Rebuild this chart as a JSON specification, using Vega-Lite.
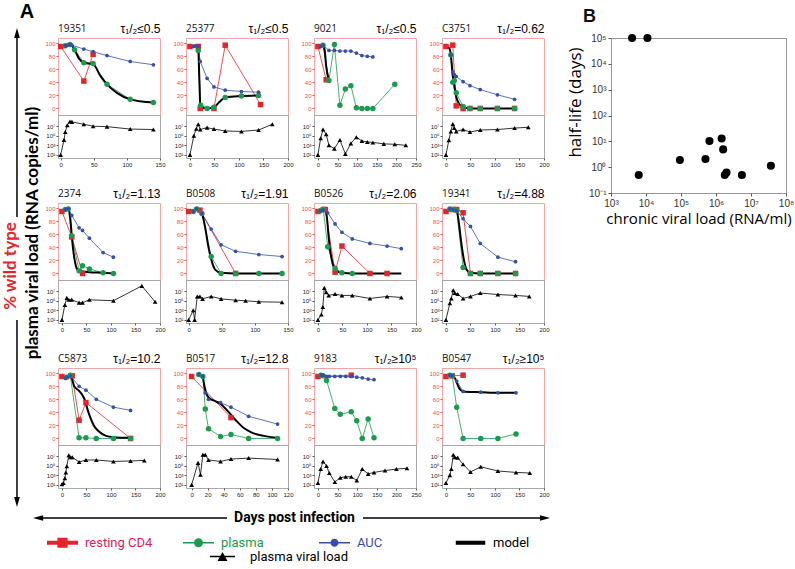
{
"$schema":"https://vega.github.io/schema/vega-lite/v6.json",
"padding":{"left":0,"top":2,"right":0,"bottom":0},
"datasets":{
"pct":[
{"id":"19351","series":"resting CD4","day":0,"pct":95},{"id":"19351","series":"resting CD4","day":35,"pct":42},{"id":"19351","series":"resting CD4","day":49,"pct":83},
{"id":"19351","series":"plasma","day":7,"pct":96},{"id":"19351","series":"plasma","day":14,"pct":98},{"id":"19351","series":"plasma","day":21,"pct":90},{"id":"19351","series":"plasma","day":35,"pct":70},{"id":"19351","series":"plasma","day":49,"pct":69},{"id":"19351","series":"plasma","day":70,"pct":37},{"id":"19351","series":"plasma","day":105,"pct":14},{"id":"19351","series":"plasma","day":140,"pct":9},
{"id":"19351","series":"AUC","day":7,"pct":96},{"id":"19351","series":"AUC","day":10,"pct":97},{"id":"19351","series":"AUC","day":14,"pct":98},{"id":"19351","series":"AUC","day":17,"pct":97},{"id":"19351","series":"AUC","day":35,"pct":91},{"id":"19351","series":"AUC","day":49,"pct":87},{"id":"19351","series":"AUC","day":70,"pct":81},{"id":"19351","series":"AUC","day":105,"pct":72},{"id":"19351","series":"AUC","day":140,"pct":67},
{"id":"19351","series":"model","day":0,"pct":95},{"id":"19351","series":"model","day":10,"pct":96},{"id":"19351","series":"model","day":17,"pct":96},{"id":"19351","series":"model","day":21,"pct":90},{"id":"19351","series":"model","day":28,"pct":76},{"id":"19351","series":"model","day":35,"pct":70},{"id":"19351","series":"model","day":49,"pct":68},{"id":"19351","series":"model","day":60,"pct":50},{"id":"19351","series":"model","day":70,"pct":37},{"id":"19351","series":"model","day":85,"pct":24},{"id":"19351","series":"model","day":105,"pct":14},{"id":"19351","series":"model","day":140,"pct":9},
{"id":"25377","series":"resting CD4","day":0,"pct":95},{"id":"25377","series":"resting CD4","day":17,"pct":95},{"id":"25377","series":"resting CD4","day":21,"pct":0},{"id":"25377","series":"resting CD4","day":49,"pct":0},{"id":"25377","series":"resting CD4","day":72,"pct":97},{"id":"25377","series":"resting CD4","day":144,"pct":6},
{"id":"25377","series":"plasma","day":17,"pct":89},{"id":"25377","series":"plasma","day":22,"pct":5},{"id":"25377","series":"plasma","day":35,"pct":0},{"id":"25377","series":"plasma","day":49,"pct":2},{"id":"25377","series":"plasma","day":72,"pct":17},{"id":"25377","series":"plasma","day":105,"pct":19},{"id":"25377","series":"plasma","day":140,"pct":20},
{"id":"25377","series":"AUC","day":7,"pct":95},{"id":"25377","series":"AUC","day":10,"pct":96},{"id":"25377","series":"AUC","day":17,"pct":95},{"id":"25377","series":"AUC","day":21,"pct":72},{"id":"25377","series":"AUC","day":35,"pct":46},{"id":"25377","series":"AUC","day":49,"pct":33},{"id":"25377","series":"AUC","day":72,"pct":28},{"id":"25377","series":"AUC","day":105,"pct":26},{"id":"25377","series":"AUC","day":140,"pct":25},
{"id":"25377","series":"model","day":0,"pct":95},{"id":"25377","series":"model","day":14,"pct":95},{"id":"25377","series":"model","day":17,"pct":92},{"id":"25377","series":"model","day":19,"pct":50},{"id":"25377","series":"model","day":21,"pct":8},{"id":"25377","series":"model","day":25,"pct":2},{"id":"25377","series":"model","day":35,"pct":0},{"id":"25377","series":"model","day":49,"pct":2},{"id":"25377","series":"model","day":60,"pct":10},{"id":"25377","series":"model","day":72,"pct":17},{"id":"25377","series":"model","day":105,"pct":19},{"id":"25377","series":"model","day":140,"pct":20},
{"id":"9021","series":"resting CD4","day":0,"pct":95},{"id":"9021","series":"resting CD4","day":21,"pct":44},
{"id":"9021","series":"plasma","day":13,"pct":97},{"id":"9021","series":"plasma","day":28,"pct":43},{"id":"9021","series":"plasma","day":42,"pct":98},{"id":"9021","series":"plasma","day":56,"pct":5},{"id":"9021","series":"plasma","day":70,"pct":30},{"id":"9021","series":"plasma","day":84,"pct":35},{"id":"9021","series":"plasma","day":98,"pct":1},{"id":"9021","series":"plasma","day":112,"pct":0},{"id":"9021","series":"plasma","day":126,"pct":0},{"id":"9021","series":"plasma","day":140,"pct":0},{"id":"9021","series":"plasma","day":196,"pct":37},
{"id":"9021","series":"AUC","day":7,"pct":95},{"id":"9021","series":"AUC","day":13,"pct":97},{"id":"9021","series":"AUC","day":28,"pct":89},{"id":"9021","series":"AUC","day":42,"pct":89},{"id":"9021","series":"AUC","day":56,"pct":88},{"id":"9021","series":"AUC","day":70,"pct":88},{"id":"9021","series":"AUC","day":84,"pct":88},{"id":"9021","series":"AUC","day":98,"pct":85},{"id":"9021","series":"AUC","day":112,"pct":81},{"id":"9021","series":"AUC","day":126,"pct":80},{"id":"9021","series":"AUC","day":140,"pct":79},
{"id":"9021","series":"model","day":13,"pct":97},{"id":"9021","series":"model","day":17,"pct":90},{"id":"9021","series":"model","day":21,"pct":65},{"id":"9021","series":"model","day":28,"pct":43},
{"id":"C3751","series":"resting CD4","day":0,"pct":95},{"id":"C3751","series":"resting CD4","day":14,"pct":97},{"id":"C3751","series":"resting CD4","day":21,"pct":4},{"id":"C3751","series":"resting CD4","day":35,"pct":0},{"id":"C3751","series":"resting CD4","day":49,"pct":0},{"id":"C3751","series":"resting CD4","day":70,"pct":0},{"id":"C3751","series":"resting CD4","day":105,"pct":0},{"id":"C3751","series":"resting CD4","day":140,"pct":0},
{"id":"C3751","series":"plasma","day":10,"pct":82},{"id":"C3751","series":"plasma","day":14,"pct":40},{"id":"C3751","series":"plasma","day":17,"pct":43},{"id":"C3751","series":"plasma","day":21,"pct":24},{"id":"C3751","series":"plasma","day":35,"pct":3},{"id":"C3751","series":"plasma","day":49,"pct":0},{"id":"C3751","series":"plasma","day":70,"pct":0},{"id":"C3751","series":"plasma","day":105,"pct":0},{"id":"C3751","series":"plasma","day":140,"pct":0},
{"id":"C3751","series":"AUC","day":10,"pct":82},{"id":"C3751","series":"AUC","day":14,"pct":56},{"id":"C3751","series":"AUC","day":17,"pct":52},{"id":"C3751","series":"AUC","day":21,"pct":49},{"id":"C3751","series":"AUC","day":35,"pct":41},{"id":"C3751","series":"AUC","day":49,"pct":35},{"id":"C3751","series":"AUC","day":70,"pct":29},{"id":"C3751","series":"AUC","day":105,"pct":21},{"id":"C3751","series":"AUC","day":140,"pct":14},
{"id":"C3751","series":"model","day":0,"pct":95},{"id":"C3751","series":"model","day":7,"pct":92},{"id":"C3751","series":"model","day":10,"pct":82},{"id":"C3751","series":"model","day":14,"pct":50},{"id":"C3751","series":"model","day":17,"pct":35},{"id":"C3751","series":"model","day":21,"pct":18},{"id":"C3751","series":"model","day":28,"pct":6},{"id":"C3751","series":"model","day":35,"pct":2},{"id":"C3751","series":"model","day":49,"pct":0},{"id":"C3751","series":"model","day":70,"pct":0},{"id":"C3751","series":"model","day":105,"pct":0},{"id":"C3751","series":"model","day":140,"pct":0},
{"id":"2374","series":"resting CD4","day":0,"pct":95},{"id":"2374","series":"resting CD4","day":20,"pct":56},{"id":"2374","series":"resting CD4","day":42,"pct":0},
{"id":"2374","series":"plasma","day":7,"pct":98},{"id":"2374","series":"plasma","day":13,"pct":99},{"id":"2374","series":"plasma","day":20,"pct":58},{"id":"2374","series":"plasma","day":35,"pct":4},{"id":"2374","series":"plasma","day":42,"pct":12},{"id":"2374","series":"plasma","day":56,"pct":7},{"id":"2374","series":"plasma","day":84,"pct":1},{"id":"2374","series":"plasma","day":105,"pct":0},
{"id":"2374","series":"AUC","day":7,"pct":98},{"id":"2374","series":"AUC","day":13,"pct":99},{"id":"2374","series":"AUC","day":20,"pct":89},{"id":"2374","series":"AUC","day":35,"pct":70},{"id":"2374","series":"AUC","day":42,"pct":66},{"id":"2374","series":"AUC","day":56,"pct":54},{"id":"2374","series":"AUC","day":84,"pct":32},{"id":"2374","series":"AUC","day":105,"pct":25},
{"id":"2374","series":"model","day":7,"pct":98},{"id":"2374","series":"model","day":14,"pct":97},{"id":"2374","series":"model","day":17,"pct":85},{"id":"2374","series":"model","day":20,"pct":58},{"id":"2374","series":"model","day":25,"pct":25},{"id":"2374","series":"model","day":30,"pct":8},{"id":"2374","series":"model","day":35,"pct":4},{"id":"2374","series":"model","day":42,"pct":3},{"id":"2374","series":"model","day":56,"pct":2},{"id":"2374","series":"model","day":84,"pct":1},{"id":"2374","series":"model","day":105,"pct":0},
{"id":"B0508","series":"resting CD4","day":0,"pct":95},{"id":"B0508","series":"resting CD4","day":17,"pct":97},{"id":"B0508","series":"resting CD4","day":71,"pct":0},
{"id":"B0508","series":"plasma","day":7,"pct":95},{"id":"B0508","series":"plasma","day":12,"pct":99},{"id":"B0508","series":"plasma","day":20,"pct":92},{"id":"B0508","series":"plasma","day":34,"pct":26},{"id":"B0508","series":"plasma","day":49,"pct":0},{"id":"B0508","series":"plasma","day":71,"pct":0},{"id":"B0508","series":"plasma","day":106,"pct":0},{"id":"B0508","series":"plasma","day":141,"pct":0},
{"id":"B0508","series":"AUC","day":7,"pct":95},{"id":"B0508","series":"AUC","day":12,"pct":99},{"id":"B0508","series":"AUC","day":20,"pct":92},{"id":"B0508","series":"AUC","day":34,"pct":68},{"id":"B0508","series":"AUC","day":49,"pct":44},{"id":"B0508","series":"AUC","day":71,"pct":34},{"id":"B0508","series":"AUC","day":106,"pct":29},{"id":"B0508","series":"AUC","day":141,"pct":26},
{"id":"B0508","series":"model","day":0,"pct":95},{"id":"B0508","series":"model","day":12,"pct":98},{"id":"B0508","series":"model","day":20,"pct":92},{"id":"B0508","series":"model","day":25,"pct":70},{"id":"B0508","series":"model","day":30,"pct":40},{"id":"B0508","series":"model","day":34,"pct":22},{"id":"B0508","series":"model","day":40,"pct":6},{"id":"B0508","series":"model","day":49,"pct":1},{"id":"B0508","series":"model","day":71,"pct":0},{"id":"B0508","series":"model","day":106,"pct":0},{"id":"B0508","series":"model","day":141,"pct":0},
{"id":"B0526","series":"resting CD4","day":0,"pct":95},{"id":"B0526","series":"resting CD4","day":11,"pct":98},{"id":"B0526","series":"resting CD4","day":15,"pct":98},{"id":"B0526","series":"resting CD4","day":35,"pct":2},{"id":"B0526","series":"resting CD4","day":49,"pct":42},{"id":"B0526","series":"resting CD4","day":106,"pct":0},{"id":"B0526","series":"resting CD4","day":141,"pct":0},
{"id":"B0526","series":"plasma","day":5,"pct":96},{"id":"B0526","series":"plasma","day":11,"pct":98},{"id":"B0526","series":"plasma","day":20,"pct":41},{"id":"B0526","series":"plasma","day":35,"pct":8},{"id":"B0526","series":"plasma","day":49,"pct":1},{"id":"B0526","series":"plasma","day":70,"pct":0},
{"id":"B0526","series":"AUC","day":5,"pct":96},{"id":"B0526","series":"AUC","day":11,"pct":97},{"id":"B0526","series":"AUC","day":20,"pct":93},{"id":"B0526","series":"AUC","day":35,"pct":76},{"id":"B0526","series":"AUC","day":49,"pct":63},{"id":"B0526","series":"AUC","day":70,"pct":53},{"id":"B0526","series":"AUC","day":106,"pct":46},{"id":"B0526","series":"AUC","day":141,"pct":42},{"id":"B0526","series":"AUC","day":170,"pct":38},
{"id":"B0526","series":"model","day":5,"pct":97},{"id":"B0526","series":"model","day":15,"pct":96},{"id":"B0526","series":"model","day":18,"pct":88},{"id":"B0526","series":"model","day":22,"pct":55},{"id":"B0526","series":"model","day":26,"pct":30},{"id":"B0526","series":"model","day":30,"pct":15},{"id":"B0526","series":"model","day":35,"pct":7},{"id":"B0526","series":"model","day":42,"pct":2},{"id":"B0526","series":"model","day":49,"pct":1},{"id":"B0526","series":"model","day":70,"pct":0},{"id":"B0526","series":"model","day":106,"pct":0},{"id":"B0526","series":"model","day":141,"pct":0},{"id":"B0526","series":"model","day":170,"pct":0},
{"id":"19341","series":"resting CD4","day":0,"pct":95},{"id":"19341","series":"resting CD4","day":15,"pct":98},{"id":"19341","series":"resting CD4","day":22,"pct":98},{"id":"19341","series":"resting CD4","day":35,"pct":93},{"id":"19341","series":"resting CD4","day":50,"pct":0},{"id":"19341","series":"resting CD4","day":70,"pct":0},{"id":"19341","series":"resting CD4","day":106,"pct":0},{"id":"19341","series":"resting CD4","day":142,"pct":0},
{"id":"19341","series":"plasma","day":8,"pct":99},{"id":"19341","series":"plasma","day":15,"pct":98},{"id":"19341","series":"plasma","day":22,"pct":96},{"id":"19341","series":"plasma","day":35,"pct":9},{"id":"19341","series":"plasma","day":50,"pct":0},{"id":"19341","series":"plasma","day":70,"pct":0},{"id":"19341","series":"plasma","day":106,"pct":0},{"id":"19341","series":"plasma","day":142,"pct":0},
{"id":"19341","series":"AUC","day":8,"pct":99},{"id":"19341","series":"AUC","day":15,"pct":98},{"id":"19341","series":"AUC","day":22,"pct":96},{"id":"19341","series":"AUC","day":35,"pct":84},{"id":"19341","series":"AUC","day":50,"pct":72},{"id":"19341","series":"AUC","day":70,"pct":46},{"id":"19341","series":"AUC","day":106,"pct":25},{"id":"19341","series":"AUC","day":142,"pct":18},
{"id":"19341","series":"model","day":0,"pct":96},{"id":"19341","series":"model","day":15,"pct":97},{"id":"19341","series":"model","day":22,"pct":96},{"id":"19341","series":"model","day":26,"pct":80},{"id":"19341","series":"model","day":30,"pct":55},{"id":"19341","series":"model","day":35,"pct":28},{"id":"19341","series":"model","day":40,"pct":10},{"id":"19341","series":"model","day":45,"pct":3},{"id":"19341","series":"model","day":50,"pct":1},{"id":"19341","series":"model","day":70,"pct":0},{"id":"19341","series":"model","day":106,"pct":0},{"id":"19341","series":"model","day":142,"pct":0},
{"id":"C5873","series":"resting CD4","day":0,"pct":95},{"id":"C5873","series":"resting CD4","day":21,"pct":96},{"id":"C5873","series":"resting CD4","day":35,"pct":28},{"id":"C5873","series":"resting CD4","day":49,"pct":55},{"id":"C5873","series":"resting CD4","day":140,"pct":0},
{"id":"C5873","series":"plasma","day":10,"pct":94},{"id":"C5873","series":"plasma","day":17,"pct":97},{"id":"C5873","series":"plasma","day":35,"pct":1},{"id":"C5873","series":"plasma","day":49,"pct":1},{"id":"C5873","series":"plasma","day":70,"pct":0},{"id":"C5873","series":"plasma","day":105,"pct":0},{"id":"C5873","series":"plasma","day":140,"pct":0},
{"id":"C5873","series":"AUC","day":7,"pct":92},{"id":"C5873","series":"AUC","day":10,"pct":94},{"id":"C5873","series":"AUC","day":17,"pct":96},{"id":"C5873","series":"AUC","day":35,"pct":80},{"id":"C5873","series":"AUC","day":49,"pct":74},{"id":"C5873","series":"AUC","day":70,"pct":60},{"id":"C5873","series":"AUC","day":105,"pct":48},{"id":"C5873","series":"AUC","day":140,"pct":43},
{"id":"C5873","series":"model","day":17,"pct":96},{"id":"C5873","series":"model","day":21,"pct":90},{"id":"C5873","series":"model","day":25,"pct":80},{"id":"C5873","series":"model","day":35,"pct":73},{"id":"C5873","series":"model","day":45,"pct":62},{"id":"C5873","series":"model","day":55,"pct":38},{"id":"C5873","series":"model","day":65,"pct":20},{"id":"C5873","series":"model","day":75,"pct":11},{"id":"C5873","series":"model","day":90,"pct":4},{"id":"C5873","series":"model","day":105,"pct":2},{"id":"C5873","series":"model","day":140,"pct":1},
{"id":"B0517","series":"resting CD4","day":0,"pct":95},{"id":"B0517","series":"resting CD4","day":49,"pct":32},
{"id":"B0517","series":"plasma","day":9,"pct":98},{"id":"B0517","series":"plasma","day":14,"pct":95},{"id":"B0517","series":"plasma","day":17,"pct":45},{"id":"B0517","series":"plasma","day":21,"pct":15},{"id":"B0517","series":"plasma","day":36,"pct":3},{"id":"B0517","series":"plasma","day":49,"pct":6},{"id":"B0517","series":"plasma","day":71,"pct":0},{"id":"B0517","series":"plasma","day":107,"pct":0},
{"id":"B0517","series":"AUC","day":9,"pct":98},{"id":"B0517","series":"AUC","day":14,"pct":95},{"id":"B0517","series":"AUC","day":17,"pct":70},{"id":"B0517","series":"AUC","day":21,"pct":60},{"id":"B0517","series":"AUC","day":36,"pct":55},{"id":"B0517","series":"AUC","day":49,"pct":48},{"id":"B0517","series":"AUC","day":71,"pct":34},{"id":"B0517","series":"AUC","day":107,"pct":22},
{"id":"B0517","series":"model","day":14,"pct":95},{"id":"B0517","series":"model","day":16,"pct":80},{"id":"B0517","series":"model","day":18,"pct":70},{"id":"B0517","series":"model","day":22,"pct":62},{"id":"B0517","series":"model","day":30,"pct":57},{"id":"B0517","series":"model","day":36,"pct":53},{"id":"B0517","series":"model","day":45,"pct":42},{"id":"B0517","series":"model","day":55,"pct":28},{"id":"B0517","series":"model","day":65,"pct":16},{"id":"B0517","series":"model","day":75,"pct":9},{"id":"B0517","series":"model","day":90,"pct":4},{"id":"B0517","series":"model","day":107,"pct":1},
{"id":"9183","series":"resting CD4","day":0,"pct":95},{"id":"9183","series":"resting CD4","day":85,"pct":97},
{"id":"9183","series":"plasma","day":8,"pct":97},{"id":"9183","series":"plasma","day":13,"pct":96},{"id":"9183","series":"plasma","day":22,"pct":89},{"id":"9183","series":"plasma","day":43,"pct":46},{"id":"9183","series":"plasma","day":57,"pct":37},{"id":"9183","series":"plasma","day":85,"pct":41},{"id":"9183","series":"plasma","day":99,"pct":27},{"id":"9183","series":"plasma","day":113,"pct":0},{"id":"9183","series":"plasma","day":128,"pct":30},{"id":"9183","series":"plasma","day":143,"pct":1},
{"id":"9183","series":"AUC","day":8,"pct":97},{"id":"9183","series":"AUC","day":13,"pct":97},{"id":"9183","series":"AUC","day":22,"pct":95},{"id":"9183","series":"AUC","day":29,"pct":95},{"id":"9183","series":"AUC","day":43,"pct":95},{"id":"9183","series":"AUC","day":57,"pct":95},{"id":"9183","series":"AUC","day":71,"pct":95},{"id":"9183","series":"AUC","day":85,"pct":95},{"id":"9183","series":"AUC","day":99,"pct":94},{"id":"9183","series":"AUC","day":113,"pct":93},{"id":"9183","series":"AUC","day":128,"pct":91},{"id":"9183","series":"AUC","day":143,"pct":90},
{"id":"B0547","series":"resting CD4","day":0,"pct":95},{"id":"B0547","series":"resting CD4","day":13,"pct":96},{"id":"B0547","series":"resting CD4","day":35,"pct":97},
{"id":"B0547","series":"plasma","day":8,"pct":97},{"id":"B0547","series":"plasma","day":13,"pct":96},{"id":"B0547","series":"plasma","day":22,"pct":48},{"id":"B0547","series":"plasma","day":35,"pct":0},{"id":"B0547","series":"plasma","day":71,"pct":0},{"id":"B0547","series":"plasma","day":106,"pct":0},{"id":"B0547","series":"plasma","day":143,"pct":7},
{"id":"B0547","series":"AUC","day":8,"pct":97},{"id":"B0547","series":"AUC","day":13,"pct":96},{"id":"B0547","series":"AUC","day":22,"pct":88},{"id":"B0547","series":"AUC","day":35,"pct":72},{"id":"B0547","series":"AUC","day":71,"pct":71},{"id":"B0547","series":"AUC","day":106,"pct":70},{"id":"B0547","series":"AUC","day":143,"pct":70},
{"id":"B0547","series":"model","day":8,"pct":97},{"id":"B0547","series":"model","day":13,"pct":96},{"id":"B0547","series":"model","day":18,"pct":93},{"id":"B0547","series":"model","day":22,"pct":86},{"id":"B0547","series":"model","day":27,"pct":77},{"id":"B0547","series":"model","day":35,"pct":72},{"id":"B0547","series":"model","day":71,"pct":71},{"id":"B0547","series":"model","day":106,"pct":70},{"id":"B0547","series":"model","day":143,"pct":70}
],
"vl":[
{"id":"19351","day":0,"load":10},{"id":"19351","day":5,"load":12600},{"id":"19351","day":7,"load":630000},{"id":"19351","day":10,"load":16000000},{"id":"19351","day":14,"load":100000000},{"id":"19351","day":17,"load":80000000},{"id":"19351","day":35,"load":25000000},{"id":"19351","day":49,"load":10000000},{"id":"19351","day":70,"load":8000000},{"id":"19351","day":105,"load":2500000},{"id":"19351","day":140,"load":2000000},
{"id":"25377","day":0,"load":10},{"id":"25377","day":8,"load":100000},{"id":"25377","day":13,"load":3000000},{"id":"25377","day":17,"load":25000000},{"id":"25377","day":21,"load":2000000},{"id":"25377","day":35,"load":5000000},{"id":"25377","day":49,"load":2500000},{"id":"25377","day":72,"load":1000000},{"id":"25377","day":105,"load":800000},{"id":"25377","day":140,"load":1600000},{"id":"25377","day":168,"load":25000000},
{"id":"9021","day":0,"load":10},{"id":"9021","day":7,"load":30000},{"id":"9021","day":13,"load":2000000},{"id":"9021","day":21,"load":200000},{"id":"9021","day":28,"load":1000},{"id":"9021","day":42,"load":200},{"id":"9021","day":56,"load":13000},{"id":"9021","day":70,"load":16},{"id":"9021","day":84,"load":2500},{"id":"9021","day":98,"load":50000},{"id":"9021","day":112,"load":8000},{"id":"9021","day":126,"load":5000},{"id":"9021","day":140,"load":4000},{"id":"9021","day":168,"load":2000},{"id":"9021","day":196,"load":1600},{"id":"9021","day":224,"load":1000},
{"id":"C3751","day":0,"load":10},{"id":"C3751","day":6,"load":12000},{"id":"C3751","day":10,"load":800000},{"id":"C3751","day":14,"load":30000000},{"id":"C3751","day":17,"load":4000000},{"id":"C3751","day":21,"load":800000},{"id":"C3751","day":35,"load":2000000},{"id":"C3751","day":49,"load":600000},{"id":"C3751","day":70,"load":1600000},{"id":"C3751","day":105,"load":2000000},{"id":"C3751","day":140,"load":4000000},{"id":"C3751","day":168,"load":6000000},
{"id":"2374","day":0,"load":10},{"id":"2374","day":6,"load":13000},{"id":"2374","day":10,"load":400000},{"id":"2374","day":14,"load":160000},{"id":"2374","day":20,"load":160000},{"id":"2374","day":35,"load":40000},{"id":"2374","day":42,"load":40000},{"id":"2374","day":56,"load":160000},{"id":"2374","day":105,"load":100000},{"id":"2374","day":163,"load":130000000},{"id":"2374","day":190,"load":60000},
{"id":"B0508","day":0,"load":10},{"id":"B0508","day":7,"load":1000},{"id":"B0508","day":9,"load":10},{"id":"B0508","day":13,"load":800000},{"id":"B0508","day":17,"load":800000},{"id":"B0508","day":21,"load":250000},{"id":"B0508","day":34,"load":800000},{"id":"B0508","day":49,"load":250000},{"id":"B0508","day":71,"load":130000},{"id":"B0508","day":86,"load":100000},{"id":"B0508","day":106,"load":60000},{"id":"B0508","day":141,"load":50000},
{"id":"B0526","day":0,"load":10},{"id":"B0526","day":7,"load":130},{"id":"B0526","day":10,"load":5000},{"id":"B0526","day":13,"load":50000000},{"id":"B0526","day":17,"load":6000000},{"id":"B0526","day":22,"load":1300000},{"id":"B0526","day":35,"load":2500000},{"id":"B0526","day":49,"load":1300000},{"id":"B0526","day":70,"load":1300000},{"id":"B0526","day":106,"load":300000},{"id":"B0526","day":141,"load":800000},{"id":"B0526","day":170,"load":500000},
{"id":"19341","day":0,"load":10},{"id":"19341","day":8,"load":30000},{"id":"19341","day":11,"load":300000},{"id":"19341","day":15,"load":16000000},{"id":"19341","day":18,"load":4000000},{"id":"19341","day":24,"load":2500000},{"id":"19341","day":35,"load":300000},{"id":"19341","day":50,"load":800000},{"id":"19341","day":70,"load":4000000},{"id":"19341","day":106,"load":2000000},{"id":"19341","day":142,"load":1300000},{"id":"19341","day":170,"load":800000},
{"id":"C5873","day":0,"load":13},{"id":"C5873","day":3,"load":25},{"id":"C5873","day":6,"load":250},{"id":"C5873","day":8,"load":4000},{"id":"C5873","day":10,"load":80000},{"id":"C5873","day":14,"load":16000000},{"id":"C5873","day":17,"load":6000000},{"id":"C5873","day":21,"load":6000000},{"id":"C5873","day":35,"load":600000},{"id":"C5873","day":49,"load":1600000},{"id":"C5873","day":70,"load":1600000},{"id":"C5873","day":105,"load":800000},{"id":"C5873","day":140,"load":1000000},{"id":"C5873","day":168,"load":1300000},
{"id":"B0517","day":0,"load":10},{"id":"B0517","day":8,"load":400000},{"id":"B0517","day":11,"load":1300},{"id":"B0517","day":14,"load":20000000},{"id":"B0517","day":17,"load":20000000},{"id":"B0517","day":21,"load":1600000},{"id":"B0517","day":36,"load":800000},{"id":"B0517","day":49,"load":2500000},{"id":"B0517","day":71,"load":4000000},{"id":"B0517","day":107,"load":2000000},
{"id":"9183","day":0,"load":25},{"id":"9183","day":7,"load":20000},{"id":"9183","day":13,"load":800000},{"id":"9183","day":22,"load":90000},{"id":"9183","day":29,"load":3000},{"id":"9183","day":43,"load":40},{"id":"9183","day":57,"load":320},{"id":"9183","day":71,"load":500},{"id":"9183","day":85,"load":500},{"id":"9183","day":99,"load":80},{"id":"9183","day":113,"load":20000},{"id":"9183","day":128,"load":2000},{"id":"9183","day":143,"load":4000},{"id":"9183","day":171,"load":10000},{"id":"9183","day":200,"load":20000},{"id":"9183","day":227,"load":30000},
{"id":"B0547","day":0,"load":25},{"id":"B0547","day":8,"load":1000},{"id":"B0547","day":11,"load":20000},{"id":"B0547","day":15,"load":20000000},{"id":"B0547","day":18,"load":6000000},{"id":"B0547","day":24,"load":5000000},{"id":"B0547","day":35,"load":200000},{"id":"B0547","day":50,"load":5000},{"id":"B0547","day":71,"load":60000},{"id":"B0547","day":106,"load":8000},{"id":"B0547","day":143,"load":4000},{"id":"B0547","day":171,"load":3000}
],
"halflife":[
{"chronic":4000,"halflife":100000},{"chronic":11000,"halflife":100000},{"chronic":6200,"halflife":0.5},{"chronic":93000,"halflife":1.91},{"chronic":500000,"halflife":2.06},{"chronic":650000,"halflife":10.2},{"chronic":1450000,"halflife":12.8},{"chronic":1600000,"halflife":4.88},{"chronic":1780000,"halflife":0.5},{"chronic":2000000,"halflife":0.62},{"chronic":5500000,"halflife":0.5},{"chronic":37000000,"halflife":1.13}
]
},
"vconcat":[
{"hconcat":[
 {"hconcat":[
  {"width":44,"height":469,"view":{"stroke":null},"data":{"values":[{}]},
   "layer":[
    {"mark":{"type":"rule","color":"black","strokeWidth":1.5},"encoding":{"x":{"datum":0.386,"type":"quantitative","scale":{"domain":[0,1],"nice":false,"zero":false},"axis":null},"y":{"datum":1.005,"type":"quantitative","scale":{"domain":[0,1],"nice":false,"zero":false},"axis":null},"y2":{"datum":0.6183}}},
    {"mark":{"type":"rule","color":"black","strokeWidth":1.5},"encoding":{"x":{"datum":0.386,"type":"quantitative","scale":{"domain":[0,1],"nice":false,"zero":false},"axis":null},"y":{"datum":0.3987,"type":"quantitative","scale":{"domain":[0,1],"nice":false,"zero":false},"axis":null},"y2":{"datum":0.015}}},
    {"mark":{"type":"point","shape":"M0,-1L0.45,0.6L-0.45,0.6Z","filled":true,"color":"black","size":160,"opacity":1,"strokeWidth":0},"encoding":{"x":{"datum":0.386,"type":"quantitative","scale":{"domain":[0,1],"nice":false,"zero":false},"axis":null},"y":{"datum":1.0079,"type":"quantitative","scale":{"domain":[0,1],"nice":false,"zero":false},"axis":null}}},
    {"mark":{"type":"point","shape":"M0,1L0.45,-0.6L-0.45,-0.6Z","filled":true,"color":"black","size":160,"opacity":1,"strokeWidth":0},"encoding":{"x":{"datum":0.386,"type":"quantitative","scale":{"domain":[0,1],"nice":false,"zero":false},"axis":null},"y":{"datum":0.0134,"type":"quantitative","scale":{"domain":[0,1],"nice":false,"zero":false},"axis":null}}},
    {"mark":{"type":"text","text":"% wild type","angle":270,"color":"#e3242b","font":"Lato","fontSize":17,"fontWeight":"bold","align":"center","baseline":"middle"},"encoding":{"x":{"datum":0.255,"type":"quantitative","scale":{"domain":[0,1],"nice":false,"zero":false},"axis":null},"y":{"datum":0.5139,"type":"quantitative","scale":{"domain":[0,1],"nice":false,"zero":false},"axis":null}}},
    {"mark":{"type":"text","text":"plasma viral load (RNA copies/ml)","angle":270,"color":"black","font":"Lato","fontSize":17,"fontWeight":"bold","align":"center","baseline":"middle"},"encoding":{"x":{"datum":0.75,"type":"quantitative","scale":{"domain":[0,1],"nice":false,"zero":false},"axis":null},"y":{"datum":0.5842,"type":"quantitative","scale":{"domain":[0,1],"nice":false,"zero":false},"axis":null}}},
    {"mark":{"type":"text","text":"A","color":"black","font":"Liberation Sans","fontSize":20,"fontWeight":"bold","align":"center","baseline":"middle"},"encoding":{"x":{"datum":0.614,"type":"quantitative","scale":{"domain":[0,1],"nice":false,"zero":false},"axis":null},"y":{"datum":1.0554,"type":"quantitative","scale":{"domain":[0,1],"nice":false,"zero":false},"axis":null}}}
   ]},
  {"concat":[
     {"width":102,"height":77,"view":{"stroke":"#f2a7a7"},"title":{"text":"19351"},"data":{"name":"pct"},"transform":[{"filter":"datum.id==='19351'"}],"resolve":{"axis":{"x":"independent"}},
      "layer":[
       {"transform":[{"filter":"datum.series!=='model'"}],"mark":{"type":"line","strokeWidth":0.8},"encoding":{"x":{"field":"day","type":"quantitative","scale":{"domain":[-4,150],"nice":false,"zero":false},"axis":{"orient":"bottom","labels":false,"ticks":false,"domainColor":"#9c3d3d","domainWidth":1.2,"title":null}},"y":{"field":"pct","type":"quantitative","scale":{"domain":[-10,108],"nice":false,"zero":false},"axis":{"values":[0,20,40,60,80,100],"tickCount":12,"labelOverlap":false,"labelColor":"#e5505c","labelFontSize":6,"tickSize":2,"tickColor":"#e5505c","labelPadding":1,"domain":false,"title":null}},
         "color":{"field":"series","type":"nominal","scale":{"domain":["resting CD4","plasma","AUC","model"],"range":["#e3242b","#1c9a4e","#3650a6","#000000"]},
          "legend":{"orient":"none","legendX":47,"legendY":489,"direction":"horizontal","columns":4,"gridAlign":"all","title":null,"symbolSize":961,"labelOffset":7,"columnPadding":30,"padding":0,"labelFont":"Roboto","labelFontSize":13,"values":["resting CD4","plasma","AUC","model"],
           "encode":{"symbols":{"update":{"shape":{"signal":"datum.value==='resting CD4'?'M-1,-0.13H1V0.13H-1Z M-0.33,-0.33H0.33V0.33H-0.33Z':datum.value==='plasma'?'M-1,-0.05H1V0.05H-1Z M0.29,0A0.29 0.29 0 1 1 -0.29,0A0.29 0.29 0 1 1 0.29,0Z':datum.value==='AUC'?'M-1,-0.05H1V0.05H-1Z M0.26,0A0.26 0.26 0 1 1 -0.26,0A0.26 0.26 0 1 1 0.26,0Z':'M-0.95,-0.13H0.95V0.13H-0.95Z'"},"fill":{"signal":"datum.value==='resting CD4'?'#d81e5b':datum.value==='plasma'?'#1c9a4e':datum.value==='AUC'?'#3650a6':'#000000'"},"strokeWidth":{"value":0},"opacity":{"value":1},"fillOpacity":{"value":1}}},
                    "labels":{"update":{"fill":{"signal":"datum.value==='resting CD4'?'#d81e5b':datum.value==='plasma'?'#1c9a4e':datum.value==='AUC'?'#3650a6':'#000000'"}}}}}}}},
       {"transform":[{"filter":"datum.series==='model'"}],"mark":{"type":"line","strokeWidth":2,"interpolate":"monotone"},"encoding":{"x":{"field":"day","type":"quantitative","axis":{"orient":"top","title":"τ₁/₂≤0.5","labels":false,"ticks":false,"domain":false,"titleAnchor":"end","titleFontSize":12,"titlePadding":3,"titleColor":"black"}},"y":{"field":"pct","type":"quantitative"},"color":{"field":"series","type":"nominal","scale":{"domain":["resting CD4","plasma","AUC","model"],"range":["#e3242b","#1c9a4e","#3650a6","#000000"]}}}},
       {"transform":[{"filter":"datum.series!=='model'"}],"mark":{"type":"point","filled":true,"opacity":1},"encoding":{"x":{"field":"day","type":"quantitative","axis":null},"y":{"field":"pct","type":"quantitative"},"color":{"field":"series","type":"nominal","scale":{"domain":["resting CD4","plasma","AUC","model"],"range":["#e3242b","#1c9a4e","#3650a6","#000000"]}},"shape":{"condition":{"test":"datum.series==='resting CD4'","value":"square"},"value":"circle"},"size":{"condition":{"test":"datum.series==='AUC'","value":14},"value":30}}}
      ]},
     {"width":102,"height":77,"view":{"stroke":"#f2a7a7"},"title":{"text":"25377"},"data":{"name":"pct"},"transform":[{"filter":"datum.id==='25377'"}],"resolve":{"axis":{"x":"independent"}},
      "layer":[
       {"transform":[{"filter":"datum.series!=='model'"}],"mark":{"type":"line","strokeWidth":0.8},"encoding":{"x":{"field":"day","type":"quantitative","scale":{"domain":[-8,200],"nice":false,"zero":false},"axis":{"orient":"bottom","labels":false,"ticks":false,"domainColor":"#9c3d3d","domainWidth":1.2,"title":null}},"y":{"field":"pct","type":"quantitative","scale":{"domain":[-10,108],"nice":false,"zero":false},"axis":{"values":[0,20,40,60,80,100],"tickCount":12,"labelOverlap":false,"labelColor":"#e5505c","labelFontSize":6,"tickSize":2,"tickColor":"#e5505c","labelPadding":1,"domain":false,"title":null}},"color":{"field":"series","type":"nominal","scale":{"domain":["resting CD4","plasma","AUC","model"],"range":["#e3242b","#1c9a4e","#3650a6","#000000"]}}}},
       {"transform":[{"filter":"datum.series==='model'"}],"mark":{"type":"line","strokeWidth":2,"interpolate":"monotone"},"encoding":{"x":{"field":"day","type":"quantitative","axis":{"orient":"top","title":"τ₁/₂≤0.5","labels":false,"ticks":false,"domain":false,"titleAnchor":"end","titleFontSize":12,"titlePadding":3,"titleColor":"black"}},"y":{"field":"pct","type":"quantitative"},"color":{"field":"series","type":"nominal","scale":{"domain":["resting CD4","plasma","AUC","model"],"range":["#e3242b","#1c9a4e","#3650a6","#000000"]}}}},
       {"transform":[{"filter":"datum.series!=='model'"}],"mark":{"type":"point","filled":true,"opacity":1},"encoding":{"x":{"field":"day","type":"quantitative","axis":null},"y":{"field":"pct","type":"quantitative"},"color":{"field":"series","type":"nominal","scale":{"domain":["resting CD4","plasma","AUC","model"],"range":["#e3242b","#1c9a4e","#3650a6","#000000"]}},"shape":{"condition":{"test":"datum.series==='resting CD4'","value":"square"},"value":"circle"},"size":{"condition":{"test":"datum.series==='AUC'","value":14},"value":30}}}
      ]},
     {"width":102,"height":77,"view":{"stroke":"#f2a7a7"},"title":{"text":"9021"},"data":{"name":"pct"},"transform":[{"filter":"datum.id==='9021'"}],"resolve":{"axis":{"x":"independent"}},
      "layer":[
       {"transform":[{"filter":"datum.series!=='model'"}],"mark":{"type":"line","strokeWidth":0.8},"encoding":{"x":{"field":"day","type":"quantitative","scale":{"domain":[-10,250],"nice":false,"zero":false},"axis":{"orient":"bottom","labels":false,"ticks":false,"domainColor":"#9c3d3d","domainWidth":1.2,"title":null}},"y":{"field":"pct","type":"quantitative","scale":{"domain":[-10,108],"nice":false,"zero":false},"axis":{"values":[0,20,40,60,80,100],"tickCount":12,"labelOverlap":false,"labelColor":"#e5505c","labelFontSize":6,"tickSize":2,"tickColor":"#e5505c","labelPadding":1,"domain":false,"title":null}},"color":{"field":"series","type":"nominal","scale":{"domain":["resting CD4","plasma","AUC","model"],"range":["#e3242b","#1c9a4e","#3650a6","#000000"]}}}},
       {"transform":[{"filter":"datum.series==='model'"}],"mark":{"type":"line","strokeWidth":2,"interpolate":"monotone"},"encoding":{"x":{"field":"day","type":"quantitative","axis":{"orient":"top","title":"τ₁/₂≤0.5","labels":false,"ticks":false,"domain":false,"titleAnchor":"end","titleFontSize":12,"titlePadding":3,"titleColor":"black"}},"y":{"field":"pct","type":"quantitative"},"color":{"field":"series","type":"nominal","scale":{"domain":["resting CD4","plasma","AUC","model"],"range":["#e3242b","#1c9a4e","#3650a6","#000000"]}}}},
       {"transform":[{"filter":"datum.series!=='model'"}],"mark":{"type":"point","filled":true,"opacity":1},"encoding":{"x":{"field":"day","type":"quantitative","axis":null},"y":{"field":"pct","type":"quantitative"},"color":{"field":"series","type":"nominal","scale":{"domain":["resting CD4","plasma","AUC","model"],"range":["#e3242b","#1c9a4e","#3650a6","#000000"]}},"shape":{"condition":{"test":"datum.series==='resting CD4'","value":"square"},"value":"circle"},"size":{"condition":{"test":"datum.series==='AUC'","value":14},"value":30}}}
      ]},
     {"width":102,"height":77,"view":{"stroke":"#f2a7a7"},"title":{"text":"C3751"},"data":{"name":"pct"},"transform":[{"filter":"datum.id==='C3751'"}],"resolve":{"axis":{"x":"independent"}},
      "layer":[
       {"transform":[{"filter":"datum.series!=='model'"}],"mark":{"type":"line","strokeWidth":0.8},"encoding":{"x":{"field":"day","type":"quantitative","scale":{"domain":[-8,200],"nice":false,"zero":false},"axis":{"orient":"bottom","labels":false,"ticks":false,"domainColor":"#9c3d3d","domainWidth":1.2,"title":null}},"y":{"field":"pct","type":"quantitative","scale":{"domain":[-10,108],"nice":false,"zero":false},"axis":{"values":[0,20,40,60,80,100],"tickCount":12,"labelOverlap":false,"labelColor":"#e5505c","labelFontSize":6,"tickSize":2,"tickColor":"#e5505c","labelPadding":1,"domain":false,"title":null}},"color":{"field":"series","type":"nominal","scale":{"domain":["resting CD4","plasma","AUC","model"],"range":["#e3242b","#1c9a4e","#3650a6","#000000"]}}}},
       {"transform":[{"filter":"datum.series==='model'"}],"mark":{"type":"line","strokeWidth":2,"interpolate":"monotone"},"encoding":{"x":{"field":"day","type":"quantitative","axis":{"orient":"top","title":"τ₁/₂=0.62","labels":false,"ticks":false,"domain":false,"titleAnchor":"end","titleFontSize":12,"titlePadding":3,"titleColor":"black"}},"y":{"field":"pct","type":"quantitative"},"color":{"field":"series","type":"nominal","scale":{"domain":["resting CD4","plasma","AUC","model"],"range":["#e3242b","#1c9a4e","#3650a6","#000000"]}}}},
       {"transform":[{"filter":"datum.series!=='model'"}],"mark":{"type":"point","filled":true,"opacity":1},"encoding":{"x":{"field":"day","type":"quantitative","axis":null},"y":{"field":"pct","type":"quantitative"},"color":{"field":"series","type":"nominal","scale":{"domain":["resting CD4","plasma","AUC","model"],"range":["#e3242b","#1c9a4e","#3650a6","#000000"]}},"shape":{"condition":{"test":"datum.series==='resting CD4'","value":"square"},"value":"circle"},"size":{"condition":{"test":"datum.series==='AUC'","value":14},"value":30}}}
      ]},
     {"width":102,"height":43,"view":{"stroke":"#a9a9a9"},"data":{"name":"vl"},"transform":[{"filter":"datum.id==='19351'"}],
      "layer":[
       {"mark":{"type":"line","color":"black","strokeWidth":0.8},"encoding":{"x":{"field":"day","type":"quantitative","scale":{"domain":[-4,150],"nice":false,"zero":false},"axis":{"values":[0,50,100,150],"tickCount":12,"labelOverlap":false,"labelFlush":false,"labelFontSize":6,"tickSize":2,"labelPadding":1,"domain":false,"title":null}},"y":{"field":"load","type":"quantitative","scale":{"type":"log","domain":[2.2,2200000000],"nice":false},"axis":{"values":[10,1000,100000,10000000],"tickCount":12,"labelOverlap":false,"labelExpr":"['10¹','10³','10⁵','10⁷'][round((log(datum.value)/LN10-1)/2)]","labelFontSize":6,"tickSize":2,"labelPadding":1,"domain":false,"title":null}}}},
       {"mark":{"type":"point","shape":"triangle-up","filled":true,"color":"black","size":22},"encoding":{"x":{"field":"day","type":"quantitative"},"y":{"field":"load","type":"quantitative"},
         "opacity":{"datum":"plasma viral load","scale":{"domain":["plasma viral load"],"range":[1]},
          "legend":{"orient":"none","legendX":210,"legendY":506,"title":null,"symbolSize":625,"symbolType":"M-1,-0.06H1V0.06H-1Z M0,-0.36L0.4,0.36L-0.4,0.36Z","symbolFillColor":"black","symbolStrokeColor":"black","symbolStrokeWidth":0,"symbolOpacity":1,"labelOffset":15,"padding":0,"labelFont":"Roboto","labelFontSize":13,"labelColor":"black",
           "encode":{"symbols":{"update":{"shape":{"signal":"'M-1,-0.06H1V0.06H-1Z M0,-0.36L0.4,0.36L-0.4,0.36Z'"},"fill":{"value":"black"},"strokeWidth":{"value":0},"opacity":{"value":1},"fillOpacity":{"value":1}}}}}}}}
      ]},
     {"width":102,"height":43,"view":{"stroke":"#a9a9a9"},"data":{"name":"vl"},"transform":[{"filter":"datum.id==='25377'"}],
      "layer":[
       {"mark":{"type":"line","color":"black","strokeWidth":0.8},"encoding":{"x":{"field":"day","type":"quantitative","scale":{"domain":[-8,200],"nice":false,"zero":false},"axis":{"values":[0,50,100,150,200],"tickCount":12,"labelOverlap":false,"labelFlush":false,"labelFontSize":6,"tickSize":2,"labelPadding":1,"domain":false,"title":null}},"y":{"field":"load","type":"quantitative","scale":{"type":"log","domain":[2.2,2200000000],"nice":false},"axis":{"values":[10,1000,100000,10000000],"tickCount":12,"labelOverlap":false,"labelExpr":"['10¹','10³','10⁵','10⁷'][round((log(datum.value)/LN10-1)/2)]","labelFontSize":6,"tickSize":2,"labelPadding":1,"domain":false,"title":null}}}},
       {"mark":{"type":"point","shape":"triangle-up","filled":true,"color":"black","opacity":1,"size":22},"encoding":{"x":{"field":"day","type":"quantitative"},"y":{"field":"load","type":"quantitative"}}}
      ]},
     {"width":102,"height":43,"view":{"stroke":"#a9a9a9"},"data":{"name":"vl"},"transform":[{"filter":"datum.id==='9021'"}],
      "layer":[
       {"mark":{"type":"line","color":"black","strokeWidth":0.8},"encoding":{"x":{"field":"day","type":"quantitative","scale":{"domain":[-10,250],"nice":false,"zero":false},"axis":{"values":[0,50,100,150,200,250],"tickCount":12,"labelOverlap":false,"labelFlush":false,"labelFontSize":6,"tickSize":2,"labelPadding":1,"domain":false,"title":null}},"y":{"field":"load","type":"quantitative","scale":{"type":"log","domain":[2.2,2200000000],"nice":false},"axis":{"values":[10,1000,100000,10000000],"tickCount":12,"labelOverlap":false,"labelExpr":"['10¹','10³','10⁵','10⁷'][round((log(datum.value)/LN10-1)/2)]","labelFontSize":6,"tickSize":2,"labelPadding":1,"domain":false,"title":null}}}},
       {"mark":{"type":"point","shape":"triangle-up","filled":true,"color":"black","opacity":1,"size":22},"encoding":{"x":{"field":"day","type":"quantitative"},"y":{"field":"load","type":"quantitative"}}}
      ]},
     {"width":102,"height":43,"view":{"stroke":"#a9a9a9"},"data":{"name":"vl"},"transform":[{"filter":"datum.id==='C3751'"}],
      "layer":[
       {"mark":{"type":"line","color":"black","strokeWidth":0.8},"encoding":{"x":{"field":"day","type":"quantitative","scale":{"domain":[-8,200],"nice":false,"zero":false},"axis":{"values":[0,50,100,150,200],"tickCount":12,"labelOverlap":false,"labelFlush":false,"labelFontSize":6,"tickSize":2,"labelPadding":1,"domain":false,"title":null}},"y":{"field":"load","type":"quantitative","scale":{"type":"log","domain":[2.2,2200000000],"nice":false},"axis":{"values":[10,1000,100000,10000000],"tickCount":12,"labelOverlap":false,"labelExpr":"['10¹','10³','10⁵','10⁷'][round((log(datum.value)/LN10-1)/2)]","labelFontSize":6,"tickSize":2,"labelPadding":1,"domain":false,"title":null}}}},
       {"mark":{"type":"point","shape":"triangle-up","filled":true,"color":"black","opacity":1,"size":22},"encoding":{"x":{"field":"day","type":"quantitative"},"y":{"field":"load","type":"quantitative"}}}
      ]},
     {"width":102,"height":45,"view":{"stroke":null},"data":{"values":[]},"mark":"point","encoding":{}},
     {"width":102,"height":45,"view":{"stroke":null},"data":{"values":[]},"mark":"point","encoding":{}},
     {"width":102,"height":45,"view":{"stroke":null},"data":{"values":[]},"mark":"point","encoding":{}},
     {"width":102,"height":45,"view":{"stroke":null},"data":{"values":[]},"mark":"point","encoding":{}},
     {"width":102,"height":77,"view":{"stroke":"#f2a7a7"},"title":{"text":"2374"},"data":{"name":"pct"},"transform":[{"filter":"datum.id==='2374'"}],"resolve":{"axis":{"x":"independent"}},
      "layer":[
       {"transform":[{"filter":"datum.series!=='model'"}],"mark":{"type":"line","strokeWidth":0.8},"encoding":{"x":{"field":"day","type":"quantitative","scale":{"domain":[-8,200],"nice":false,"zero":false},"axis":{"orient":"bottom","labels":false,"ticks":false,"domainColor":"#9c3d3d","domainWidth":1.2,"title":null}},"y":{"field":"pct","type":"quantitative","scale":{"domain":[-10,108],"nice":false,"zero":false},"axis":{"values":[0,20,40,60,80,100],"tickCount":12,"labelOverlap":false,"labelColor":"#e5505c","labelFontSize":6,"tickSize":2,"tickColor":"#e5505c","labelPadding":1,"domain":false,"title":null}},"color":{"field":"series","type":"nominal","scale":{"domain":["resting CD4","plasma","AUC","model"],"range":["#e3242b","#1c9a4e","#3650a6","#000000"]}}}},
       {"transform":[{"filter":"datum.series==='model'"}],"mark":{"type":"line","strokeWidth":2,"interpolate":"monotone"},"encoding":{"x":{"field":"day","type":"quantitative","axis":{"orient":"top","title":"τ₁/₂=1.13","labels":false,"ticks":false,"domain":false,"titleAnchor":"end","titleFontSize":12,"titlePadding":3,"titleColor":"black"}},"y":{"field":"pct","type":"quantitative"},"color":{"field":"series","type":"nominal","scale":{"domain":["resting CD4","plasma","AUC","model"],"range":["#e3242b","#1c9a4e","#3650a6","#000000"]}}}},
       {"transform":[{"filter":"datum.series!=='model'"}],"mark":{"type":"point","filled":true,"opacity":1},"encoding":{"x":{"field":"day","type":"quantitative","axis":null},"y":{"field":"pct","type":"quantitative"},"color":{"field":"series","type":"nominal","scale":{"domain":["resting CD4","plasma","AUC","model"],"range":["#e3242b","#1c9a4e","#3650a6","#000000"]}},"shape":{"condition":{"test":"datum.series==='resting CD4'","value":"square"},"value":"circle"},"size":{"condition":{"test":"datum.series==='AUC'","value":14},"value":30}}}
      ]},
     {"width":102,"height":77,"view":{"stroke":"#f2a7a7"},"title":{"text":"B0508"},"data":{"name":"pct"},"transform":[{"filter":"datum.id==='B0508'"}],"resolve":{"axis":{"x":"independent"}},
      "layer":[
       {"transform":[{"filter":"datum.series!=='model'"}],"mark":{"type":"line","strokeWidth":0.8},"encoding":{"x":{"field":"day","type":"quantitative","scale":{"domain":[-4,150],"nice":false,"zero":false},"axis":{"orient":"bottom","labels":false,"ticks":false,"domainColor":"#9c3d3d","domainWidth":1.2,"title":null}},"y":{"field":"pct","type":"quantitative","scale":{"domain":[-10,108],"nice":false,"zero":false},"axis":{"values":[0,20,40,60,80,100],"tickCount":12,"labelOverlap":false,"labelColor":"#e5505c","labelFontSize":6,"tickSize":2,"tickColor":"#e5505c","labelPadding":1,"domain":false,"title":null}},"color":{"field":"series","type":"nominal","scale":{"domain":["resting CD4","plasma","AUC","model"],"range":["#e3242b","#1c9a4e","#3650a6","#000000"]}}}},
       {"transform":[{"filter":"datum.series==='model'"}],"mark":{"type":"line","strokeWidth":2,"interpolate":"monotone"},"encoding":{"x":{"field":"day","type":"quantitative","axis":{"orient":"top","title":"τ₁/₂=1.91","labels":false,"ticks":false,"domain":false,"titleAnchor":"end","titleFontSize":12,"titlePadding":3,"titleColor":"black"}},"y":{"field":"pct","type":"quantitative"},"color":{"field":"series","type":"nominal","scale":{"domain":["resting CD4","plasma","AUC","model"],"range":["#e3242b","#1c9a4e","#3650a6","#000000"]}}}},
       {"transform":[{"filter":"datum.series!=='model'"}],"mark":{"type":"point","filled":true,"opacity":1},"encoding":{"x":{"field":"day","type":"quantitative","axis":null},"y":{"field":"pct","type":"quantitative"},"color":{"field":"series","type":"nominal","scale":{"domain":["resting CD4","plasma","AUC","model"],"range":["#e3242b","#1c9a4e","#3650a6","#000000"]}},"shape":{"condition":{"test":"datum.series==='resting CD4'","value":"square"},"value":"circle"},"size":{"condition":{"test":"datum.series==='AUC'","value":14},"value":30}}}
      ]},
     {"width":102,"height":77,"view":{"stroke":"#f2a7a7"},"title":{"text":"B0526"},"data":{"name":"pct"},"transform":[{"filter":"datum.id==='B0526'"}],"resolve":{"axis":{"x":"independent"}},
      "layer":[
       {"transform":[{"filter":"datum.series!=='model'"}],"mark":{"type":"line","strokeWidth":0.8},"encoding":{"x":{"field":"day","type":"quantitative","scale":{"domain":[-8,200],"nice":false,"zero":false},"axis":{"orient":"bottom","labels":false,"ticks":false,"domainColor":"#9c3d3d","domainWidth":1.2,"title":null}},"y":{"field":"pct","type":"quantitative","scale":{"domain":[-10,108],"nice":false,"zero":false},"axis":{"values":[0,20,40,60,80,100],"tickCount":12,"labelOverlap":false,"labelColor":"#e5505c","labelFontSize":6,"tickSize":2,"tickColor":"#e5505c","labelPadding":1,"domain":false,"title":null}},"color":{"field":"series","type":"nominal","scale":{"domain":["resting CD4","plasma","AUC","model"],"range":["#e3242b","#1c9a4e","#3650a6","#000000"]}}}},
       {"transform":[{"filter":"datum.series==='model'"}],"mark":{"type":"line","strokeWidth":2,"interpolate":"monotone"},"encoding":{"x":{"field":"day","type":"quantitative","axis":{"orient":"top","title":"τ₁/₂=2.06","labels":false,"ticks":false,"domain":false,"titleAnchor":"end","titleFontSize":12,"titlePadding":3,"titleColor":"black"}},"y":{"field":"pct","type":"quantitative"},"color":{"field":"series","type":"nominal","scale":{"domain":["resting CD4","plasma","AUC","model"],"range":["#e3242b","#1c9a4e","#3650a6","#000000"]}}}},
       {"transform":[{"filter":"datum.series!=='model'"}],"mark":{"type":"point","filled":true,"opacity":1},"encoding":{"x":{"field":"day","type":"quantitative","axis":null},"y":{"field":"pct","type":"quantitative"},"color":{"field":"series","type":"nominal","scale":{"domain":["resting CD4","plasma","AUC","model"],"range":["#e3242b","#1c9a4e","#3650a6","#000000"]}},"shape":{"condition":{"test":"datum.series==='resting CD4'","value":"square"},"value":"circle"},"size":{"condition":{"test":"datum.series==='AUC'","value":14},"value":30}}}
      ]},
     {"width":102,"height":77,"view":{"stroke":"#f2a7a7"},"title":{"text":"19341"},"data":{"name":"pct"},"transform":[{"filter":"datum.id==='19341'"}],"resolve":{"axis":{"x":"independent"}},
      "layer":[
       {"transform":[{"filter":"datum.series!=='model'"}],"mark":{"type":"line","strokeWidth":0.8},"encoding":{"x":{"field":"day","type":"quantitative","scale":{"domain":[-8,200],"nice":false,"zero":false},"axis":{"orient":"bottom","labels":false,"ticks":false,"domainColor":"#9c3d3d","domainWidth":1.2,"title":null}},"y":{"field":"pct","type":"quantitative","scale":{"domain":[-10,108],"nice":false,"zero":false},"axis":{"values":[0,20,40,60,80,100],"tickCount":12,"labelOverlap":false,"labelColor":"#e5505c","labelFontSize":6,"tickSize":2,"tickColor":"#e5505c","labelPadding":1,"domain":false,"title":null}},"color":{"field":"series","type":"nominal","scale":{"domain":["resting CD4","plasma","AUC","model"],"range":["#e3242b","#1c9a4e","#3650a6","#000000"]}}}},
       {"transform":[{"filter":"datum.series==='model'"}],"mark":{"type":"line","strokeWidth":2,"interpolate":"monotone"},"encoding":{"x":{"field":"day","type":"quantitative","axis":{"orient":"top","title":"τ₁/₂=4.88","labels":false,"ticks":false,"domain":false,"titleAnchor":"end","titleFontSize":12,"titlePadding":3,"titleColor":"black"}},"y":{"field":"pct","type":"quantitative"},"color":{"field":"series","type":"nominal","scale":{"domain":["resting CD4","plasma","AUC","model"],"range":["#e3242b","#1c9a4e","#3650a6","#000000"]}}}},
       {"transform":[{"filter":"datum.series!=='model'"}],"mark":{"type":"point","filled":true,"opacity":1},"encoding":{"x":{"field":"day","type":"quantitative","axis":null},"y":{"field":"pct","type":"quantitative"},"color":{"field":"series","type":"nominal","scale":{"domain":["resting CD4","plasma","AUC","model"],"range":["#e3242b","#1c9a4e","#3650a6","#000000"]}},"shape":{"condition":{"test":"datum.series==='resting CD4'","value":"square"},"value":"circle"},"size":{"condition":{"test":"datum.series==='AUC'","value":14},"value":30}}}
      ]},
     {"width":102,"height":43,"view":{"stroke":"#a9a9a9"},"data":{"name":"vl"},"transform":[{"filter":"datum.id==='2374'"}],
      "layer":[
       {"mark":{"type":"line","color":"black","strokeWidth":0.8},"encoding":{"x":{"field":"day","type":"quantitative","scale":{"domain":[-8,200],"nice":false,"zero":false},"axis":{"values":[0,50,100,150,200],"tickCount":12,"labelOverlap":false,"labelFlush":false,"labelFontSize":6,"tickSize":2,"labelPadding":1,"domain":false,"title":null}},"y":{"field":"load","type":"quantitative","scale":{"type":"log","domain":[2.2,2200000000],"nice":false},"axis":{"values":[10,1000,100000,10000000],"tickCount":12,"labelOverlap":false,"labelExpr":"['10¹','10³','10⁵','10⁷'][round((log(datum.value)/LN10-1)/2)]","labelFontSize":6,"tickSize":2,"labelPadding":1,"domain":false,"title":null}}}},
       {"mark":{"type":"point","shape":"triangle-up","filled":true,"color":"black","opacity":1,"size":22},"encoding":{"x":{"field":"day","type":"quantitative"},"y":{"field":"load","type":"quantitative"}}}
      ]},
     {"width":102,"height":43,"view":{"stroke":"#a9a9a9"},"data":{"name":"vl"},"transform":[{"filter":"datum.id==='B0508'"}],
      "layer":[
       {"mark":{"type":"line","color":"black","strokeWidth":0.8},"encoding":{"x":{"field":"day","type":"quantitative","scale":{"domain":[-4,150],"nice":false,"zero":false},"axis":{"values":[0,50,100,150],"tickCount":12,"labelOverlap":false,"labelFlush":false,"labelFontSize":6,"tickSize":2,"labelPadding":1,"domain":false,"title":null}},"y":{"field":"load","type":"quantitative","scale":{"type":"log","domain":[2.2,2200000000],"nice":false},"axis":{"values":[10,1000,100000,10000000],"tickCount":12,"labelOverlap":false,"labelExpr":"['10¹','10³','10⁵','10⁷'][round((log(datum.value)/LN10-1)/2)]","labelFontSize":6,"tickSize":2,"labelPadding":1,"domain":false,"title":null}}}},
       {"mark":{"type":"point","shape":"triangle-up","filled":true,"color":"black","opacity":1,"size":22},"encoding":{"x":{"field":"day","type":"quantitative"},"y":{"field":"load","type":"quantitative"}}}
      ]},
     {"width":102,"height":43,"view":{"stroke":"#a9a9a9"},"data":{"name":"vl"},"transform":[{"filter":"datum.id==='B0526'"}],
      "layer":[
       {"mark":{"type":"line","color":"black","strokeWidth":0.8},"encoding":{"x":{"field":"day","type":"quantitative","scale":{"domain":[-8,200],"nice":false,"zero":false},"axis":{"values":[0,50,100,150,200],"tickCount":12,"labelOverlap":false,"labelFlush":false,"labelFontSize":6,"tickSize":2,"labelPadding":1,"domain":false,"title":null}},"y":{"field":"load","type":"quantitative","scale":{"type":"log","domain":[2.2,2200000000],"nice":false},"axis":{"values":[10,1000,100000,10000000],"tickCount":12,"labelOverlap":false,"labelExpr":"['10¹','10³','10⁵','10⁷'][round((log(datum.value)/LN10-1)/2)]","labelFontSize":6,"tickSize":2,"labelPadding":1,"domain":false,"title":null}}}},
       {"mark":{"type":"point","shape":"triangle-up","filled":true,"color":"black","opacity":1,"size":22},"encoding":{"x":{"field":"day","type":"quantitative"},"y":{"field":"load","type":"quantitative"}}}
      ]},
     {"width":102,"height":43,"view":{"stroke":"#a9a9a9"},"data":{"name":"vl"},"transform":[{"filter":"datum.id==='19341'"}],
      "layer":[
       {"mark":{"type":"line","color":"black","strokeWidth":0.8},"encoding":{"x":{"field":"day","type":"quantitative","scale":{"domain":[-8,200],"nice":false,"zero":false},"axis":{"values":[0,50,100,150,200],"tickCount":12,"labelOverlap":false,"labelFlush":false,"labelFontSize":6,"tickSize":2,"labelPadding":1,"domain":false,"title":null}},"y":{"field":"load","type":"quantitative","scale":{"type":"log","domain":[2.2,2200000000],"nice":false},"axis":{"values":[10,1000,100000,10000000],"tickCount":12,"labelOverlap":false,"labelExpr":"['10¹','10³','10⁵','10⁷'][round((log(datum.value)/LN10-1)/2)]","labelFontSize":6,"tickSize":2,"labelPadding":1,"domain":false,"title":null}}}},
       {"mark":{"type":"point","shape":"triangle-up","filled":true,"color":"black","opacity":1,"size":22},"encoding":{"x":{"field":"day","type":"quantitative"},"y":{"field":"load","type":"quantitative"}}}
      ]},
     {"width":102,"height":45,"view":{"stroke":null},"data":{"values":[]},"mark":"point","encoding":{}},
     {"width":102,"height":45,"view":{"stroke":null},"data":{"values":[]},"mark":"point","encoding":{}},
     {"width":102,"height":45,"view":{"stroke":null},"data":{"values":[]},"mark":"point","encoding":{}},
     {"width":102,"height":45,"view":{"stroke":null},"data":{"values":[]},"mark":"point","encoding":{}},
     {"width":102,"height":77,"view":{"stroke":"#f2a7a7"},"title":{"text":"C5873"},"data":{"name":"pct"},"transform":[{"filter":"datum.id==='C5873'"}],"resolve":{"axis":{"x":"independent"}},
      "layer":[
       {"transform":[{"filter":"datum.series!=='model'"}],"mark":{"type":"line","strokeWidth":0.8},"encoding":{"x":{"field":"day","type":"quantitative","scale":{"domain":[-8,200],"nice":false,"zero":false},"axis":{"orient":"bottom","labels":false,"ticks":false,"domainColor":"#9c3d3d","domainWidth":1.2,"title":null}},"y":{"field":"pct","type":"quantitative","scale":{"domain":[-10,108],"nice":false,"zero":false},"axis":{"values":[0,20,40,60,80,100],"tickCount":12,"labelOverlap":false,"labelColor":"#e5505c","labelFontSize":6,"tickSize":2,"tickColor":"#e5505c","labelPadding":1,"domain":false,"title":null}},"color":{"field":"series","type":"nominal","scale":{"domain":["resting CD4","plasma","AUC","model"],"range":["#e3242b","#1c9a4e","#3650a6","#000000"]}}}},
       {"transform":[{"filter":"datum.series==='model'"}],"mark":{"type":"line","strokeWidth":2,"interpolate":"monotone"},"encoding":{"x":{"field":"day","type":"quantitative","axis":{"orient":"top","title":"τ₁/₂=10.2","labels":false,"ticks":false,"domain":false,"titleAnchor":"end","titleFontSize":12,"titlePadding":3,"titleColor":"black"}},"y":{"field":"pct","type":"quantitative"},"color":{"field":"series","type":"nominal","scale":{"domain":["resting CD4","plasma","AUC","model"],"range":["#e3242b","#1c9a4e","#3650a6","#000000"]}}}},
       {"transform":[{"filter":"datum.series!=='model'"}],"mark":{"type":"point","filled":true,"opacity":1},"encoding":{"x":{"field":"day","type":"quantitative","axis":null},"y":{"field":"pct","type":"quantitative"},"color":{"field":"series","type":"nominal","scale":{"domain":["resting CD4","plasma","AUC","model"],"range":["#e3242b","#1c9a4e","#3650a6","#000000"]}},"shape":{"condition":{"test":"datum.series==='resting CD4'","value":"square"},"value":"circle"},"size":{"condition":{"test":"datum.series==='AUC'","value":14},"value":30}}}
      ]},
     {"width":102,"height":77,"view":{"stroke":"#f2a7a7"},"title":{"text":"B0517"},"data":{"name":"pct"},"transform":[{"filter":"datum.id==='B0517'"}],"resolve":{"axis":{"x":"independent"}},
      "layer":[
       {"transform":[{"filter":"datum.series!=='model'"}],"mark":{"type":"line","strokeWidth":0.8},"encoding":{"x":{"field":"day","type":"quantitative","scale":{"domain":[-7,120],"nice":false,"zero":false},"axis":{"orient":"bottom","labels":false,"ticks":false,"domainColor":"#9c3d3d","domainWidth":1.2,"title":null}},"y":{"field":"pct","type":"quantitative","scale":{"domain":[-10,108],"nice":false,"zero":false},"axis":{"values":[0,20,40,60,80,100],"tickCount":12,"labelOverlap":false,"labelColor":"#e5505c","labelFontSize":6,"tickSize":2,"tickColor":"#e5505c","labelPadding":1,"domain":false,"title":null}},"color":{"field":"series","type":"nominal","scale":{"domain":["resting CD4","plasma","AUC","model"],"range":["#e3242b","#1c9a4e","#3650a6","#000000"]}}}},
       {"transform":[{"filter":"datum.series==='model'"}],"mark":{"type":"line","strokeWidth":2,"interpolate":"monotone"},"encoding":{"x":{"field":"day","type":"quantitative","axis":{"orient":"top","title":"τ₁/₂=12.8","labels":false,"ticks":false,"domain":false,"titleAnchor":"end","titleFontSize":12,"titlePadding":3,"titleColor":"black"}},"y":{"field":"pct","type":"quantitative"},"color":{"field":"series","type":"nominal","scale":{"domain":["resting CD4","plasma","AUC","model"],"range":["#e3242b","#1c9a4e","#3650a6","#000000"]}}}},
       {"transform":[{"filter":"datum.series!=='model'"}],"mark":{"type":"point","filled":true,"opacity":1},"encoding":{"x":{"field":"day","type":"quantitative","axis":null},"y":{"field":"pct","type":"quantitative"},"color":{"field":"series","type":"nominal","scale":{"domain":["resting CD4","plasma","AUC","model"],"range":["#e3242b","#1c9a4e","#3650a6","#000000"]}},"shape":{"condition":{"test":"datum.series==='resting CD4'","value":"square"},"value":"circle"},"size":{"condition":{"test":"datum.series==='AUC'","value":14},"value":30}}}
      ]},
     {"width":102,"height":77,"view":{"stroke":"#f2a7a7"},"title":{"text":"9183"},"data":{"name":"pct"},"transform":[{"filter":"datum.id==='9183'"}],"resolve":{"axis":{"x":"independent"}},
      "layer":[
       {"transform":[{"filter":"datum.series!=='model'"}],"mark":{"type":"line","strokeWidth":0.8},"encoding":{"x":{"field":"day","type":"quantitative","scale":{"domain":[-10,250],"nice":false,"zero":false},"axis":{"orient":"bottom","labels":false,"ticks":false,"domainColor":"#9c3d3d","domainWidth":1.2,"title":null}},"y":{"field":"pct","type":"quantitative","scale":{"domain":[-10,108],"nice":false,"zero":false},"axis":{"values":[0,20,40,60,80,100],"tickCount":12,"labelOverlap":false,"labelColor":"#e5505c","labelFontSize":6,"tickSize":2,"tickColor":"#e5505c","labelPadding":1,"domain":false,"title":null}},"color":{"field":"series","type":"nominal","scale":{"domain":["resting CD4","plasma","AUC","model"],"range":["#e3242b","#1c9a4e","#3650a6","#000000"]}}}},
       {"transform":[{"filter":"datum.series==='model'"}],"mark":{"type":"line","strokeWidth":2,"interpolate":"monotone"},"encoding":{"x":{"field":"day","type":"quantitative","axis":{"orient":"top","title":"τ₁/₂≥10⁵","labels":false,"ticks":false,"domain":false,"titleAnchor":"end","titleFontSize":12,"titlePadding":3,"titleColor":"black"}},"y":{"field":"pct","type":"quantitative"},"color":{"field":"series","type":"nominal","scale":{"domain":["resting CD4","plasma","AUC","model"],"range":["#e3242b","#1c9a4e","#3650a6","#000000"]}}}},
       {"transform":[{"filter":"datum.series!=='model'"}],"mark":{"type":"point","filled":true,"opacity":1},"encoding":{"x":{"field":"day","type":"quantitative","axis":null},"y":{"field":"pct","type":"quantitative"},"color":{"field":"series","type":"nominal","scale":{"domain":["resting CD4","plasma","AUC","model"],"range":["#e3242b","#1c9a4e","#3650a6","#000000"]}},"shape":{"condition":{"test":"datum.series==='resting CD4'","value":"square"},"value":"circle"},"size":{"condition":{"test":"datum.series==='AUC'","value":14},"value":30}}}
      ]},
     {"width":102,"height":77,"view":{"stroke":"#f2a7a7"},"title":{"text":"B0547"},"data":{"name":"pct"},"transform":[{"filter":"datum.id==='B0547'"}],"resolve":{"axis":{"x":"independent"}},
      "layer":[
       {"transform":[{"filter":"datum.series!=='model'"}],"mark":{"type":"line","strokeWidth":0.8},"encoding":{"x":{"field":"day","type":"quantitative","scale":{"domain":[-8,200],"nice":false,"zero":false},"axis":{"orient":"bottom","labels":false,"ticks":false,"domainColor":"#9c3d3d","domainWidth":1.2,"title":null}},"y":{"field":"pct","type":"quantitative","scale":{"domain":[-10,108],"nice":false,"zero":false},"axis":{"values":[0,20,40,60,80,100],"tickCount":12,"labelOverlap":false,"labelColor":"#e5505c","labelFontSize":6,"tickSize":2,"tickColor":"#e5505c","labelPadding":1,"domain":false,"title":null}},"color":{"field":"series","type":"nominal","scale":{"domain":["resting CD4","plasma","AUC","model"],"range":["#e3242b","#1c9a4e","#3650a6","#000000"]}}}},
       {"transform":[{"filter":"datum.series==='model'"}],"mark":{"type":"line","strokeWidth":2,"interpolate":"monotone"},"encoding":{"x":{"field":"day","type":"quantitative","axis":{"orient":"top","title":"τ₁/₂≥10⁵","labels":false,"ticks":false,"domain":false,"titleAnchor":"end","titleFontSize":12,"titlePadding":3,"titleColor":"black"}},"y":{"field":"pct","type":"quantitative"},"color":{"field":"series","type":"nominal","scale":{"domain":["resting CD4","plasma","AUC","model"],"range":["#e3242b","#1c9a4e","#3650a6","#000000"]}}}},
       {"transform":[{"filter":"datum.series!=='model'"}],"mark":{"type":"point","filled":true,"opacity":1},"encoding":{"x":{"field":"day","type":"quantitative","axis":null},"y":{"field":"pct","type":"quantitative"},"color":{"field":"series","type":"nominal","scale":{"domain":["resting CD4","plasma","AUC","model"],"range":["#e3242b","#1c9a4e","#3650a6","#000000"]}},"shape":{"condition":{"test":"datum.series==='resting CD4'","value":"square"},"value":"circle"},"size":{"condition":{"test":"datum.series==='AUC'","value":14},"value":30}}}
      ]},
     {"width":102,"height":43,"view":{"stroke":"#a9a9a9"},"data":{"name":"vl"},"transform":[{"filter":"datum.id==='C5873'"}],
      "layer":[
       {"mark":{"type":"line","color":"black","strokeWidth":0.8},"encoding":{"x":{"field":"day","type":"quantitative","scale":{"domain":[-8,200],"nice":false,"zero":false},"axis":{"values":[0,50,100,150,200],"tickCount":12,"labelOverlap":false,"labelFlush":false,"labelFontSize":6,"tickSize":2,"labelPadding":1,"domain":false,"title":null}},"y":{"field":"load","type":"quantitative","scale":{"type":"log","domain":[2.2,2200000000],"nice":false},"axis":{"values":[10,1000,100000,10000000],"tickCount":12,"labelOverlap":false,"labelExpr":"['10¹','10³','10⁵','10⁷'][round((log(datum.value)/LN10-1)/2)]","labelFontSize":6,"tickSize":2,"labelPadding":1,"domain":false,"title":null}}}},
       {"mark":{"type":"point","shape":"triangle-up","filled":true,"color":"black","opacity":1,"size":22},"encoding":{"x":{"field":"day","type":"quantitative"},"y":{"field":"load","type":"quantitative"}}}
      ]},
     {"width":102,"height":43,"view":{"stroke":"#a9a9a9"},"data":{"name":"vl"},"transform":[{"filter":"datum.id==='B0517'"}],
      "layer":[
       {"mark":{"type":"line","color":"black","strokeWidth":0.8},"encoding":{"x":{"field":"day","type":"quantitative","scale":{"domain":[-7,120],"nice":false,"zero":false},"axis":{"values":[0,20,40,60,80,100,120],"tickCount":12,"labelOverlap":false,"labelFlush":false,"labelFontSize":6,"tickSize":2,"labelPadding":1,"domain":false,"title":null}},"y":{"field":"load","type":"quantitative","scale":{"type":"log","domain":[2.2,2200000000],"nice":false},"axis":{"values":[10,1000,100000,10000000],"tickCount":12,"labelOverlap":false,"labelExpr":"['10¹','10³','10⁵','10⁷'][round((log(datum.value)/LN10-1)/2)]","labelFontSize":6,"tickSize":2,"labelPadding":1,"domain":false,"title":null}}}},
       {"mark":{"type":"point","shape":"triangle-up","filled":true,"color":"black","opacity":1,"size":22},"encoding":{"x":{"field":"day","type":"quantitative"},"y":{"field":"load","type":"quantitative"}}}
      ]},
     {"width":102,"height":43,"view":{"stroke":"#a9a9a9"},"data":{"name":"vl"},"transform":[{"filter":"datum.id==='9183'"}],
      "layer":[
       {"mark":{"type":"line","color":"black","strokeWidth":0.8},"encoding":{"x":{"field":"day","type":"quantitative","scale":{"domain":[-10,250],"nice":false,"zero":false},"axis":{"values":[0,50,100,150,200,250],"tickCount":12,"labelOverlap":false,"labelFlush":false,"labelFontSize":6,"tickSize":2,"labelPadding":1,"domain":false,"title":null}},"y":{"field":"load","type":"quantitative","scale":{"type":"log","domain":[2.2,2200000000],"nice":false},"axis":{"values":[10,1000,100000,10000000],"tickCount":12,"labelOverlap":false,"labelExpr":"['10¹','10³','10⁵','10⁷'][round((log(datum.value)/LN10-1)/2)]","labelFontSize":6,"tickSize":2,"labelPadding":1,"domain":false,"title":null}}}},
       {"mark":{"type":"point","shape":"triangle-up","filled":true,"color":"black","opacity":1,"size":22},"encoding":{"x":{"field":"day","type":"quantitative"},"y":{"field":"load","type":"quantitative"}}}
      ]},
     {"width":102,"height":43,"view":{"stroke":"#a9a9a9"},"data":{"name":"vl"},"transform":[{"filter":"datum.id==='B0547'"}],
      "layer":[
       {"mark":{"type":"line","color":"black","strokeWidth":0.8},"encoding":{"x":{"field":"day","type":"quantitative","scale":{"domain":[-8,200],"nice":false,"zero":false},"axis":{"values":[0,50,100,150,200],"tickCount":12,"labelOverlap":false,"labelFlush":false,"labelFontSize":6,"tickSize":2,"labelPadding":1,"domain":false,"title":null}},"y":{"field":"load","type":"quantitative","scale":{"type":"log","domain":[2.2,2200000000],"nice":false},"axis":{"values":[10,1000,100000,10000000],"tickCount":12,"labelOverlap":false,"labelExpr":"['10¹','10³','10⁵','10⁷'][round((log(datum.value)/LN10-1)/2)]","labelFontSize":6,"tickSize":2,"labelPadding":1,"domain":false,"title":null}}}},
       {"mark":{"type":"point","shape":"triangle-up","filled":true,"color":"black","opacity":1,"size":22},"encoding":{"x":{"field":"day","type":"quantitative"},"y":{"field":"load","type":"quantitative"}}}
      ]}
  ],"columns":4,"spacing":{"row":0,"column":26},"bounds":"flush"}
 ],"spacing":0},
 {"width":175,"height":155,"view":{"stroke":"#999999"},
  "title":{"text":"B","anchor":"start","frame":"group","dx":-28,"offset":-11,"fontSize":18,"fontWeight":"bold","font":"Liberation Sans","baseline":"bottom"},
  "data":{"name":"halflife"},
  "mark":{"type":"point","filled":true,"color":"black","size":65,"opacity":1},
  "encoding":{
   "x":{"field":"chronic","type":"quantitative","scale":{"type":"log","domain":[1000,100000000],"nice":false},"axis":{"title":"chronic viral load (RNA/ml)","values":[1000,10000,100000,1000000,10000000,100000000],"tickCount":12,"labelOverlap":false,"labelExpr":"['10³','10⁴','10⁵','10⁶','10⁷','10⁸'][round(log(datum.value)/LN10)-3]","labelFontSize":10,"labelColor":"#333","tickSize":3,"domain":false,"titleFontSize":15,"titleFont":"Open Sans","titlePadding":3,"labelFlush":false}},
   "y":{"field":"halflife","type":"quantitative","scale":{"type":"log","domain":[0.1,100000],"nice":false},"axis":{"title":"half-life (days)","titleY":64,"values":[0.1,1,10,100,1000,10000,100000],"tickCount":12,"labelOverlap":false,"labelExpr":"['10⁻¹','10⁰','10¹','10²','10³','10⁴','10⁵'][round(log(datum.value)/LN10)+1]","labelFontSize":10,"labelColor":"#333","tickSize":3,"domain":false,"titleFontSize":17,"titleFont":"Open Sans","titlePadding":4,"labelFlush":false}}
  }}
],"spacing":16},
{"width":560,"height":20,"view":{"stroke":null},"data":{"values":[{}]},
 "layer":[
  {"mark":{"type":"rule","color":"black","strokeWidth":1.5},"encoding":{"x":{"datum":0.074,"type":"quantitative","scale":{"domain":[0,1],"nice":false,"zero":false},"axis":null},"x2":{"datum":0.4054},"y":{"datum":0.5,"type":"quantitative","scale":{"domain":[0,1],"nice":false,"zero":false},"axis":null}}},
  {"mark":{"type":"rule","color":"black","strokeWidth":1.5},"encoding":{"x":{"datum":0.6482,"type":"quantitative","scale":{"domain":[0,1],"nice":false,"zero":false},"axis":null},"x2":{"datum":0.9686},"y":{"datum":0.5,"type":"quantitative","scale":{"domain":[0,1],"nice":false,"zero":false},"axis":null}}},
  {"mark":{"type":"point","shape":"M-1,0L0.6,-0.45L0.6,0.45Z","filled":true,"color":"black","size":160,"opacity":1,"strokeWidth":0},"encoding":{"x":{"datum":0.0702,"type":"quantitative","scale":{"domain":[0,1],"nice":false,"zero":false},"axis":null},"y":{"datum":0.5,"type":"quantitative","scale":{"domain":[0,1],"nice":false,"zero":false},"axis":null}}},
  {"mark":{"type":"point","shape":"M1,0L-0.6,-0.45L-0.6,0.45Z","filled":true,"color":"black","size":160,"opacity":1,"strokeWidth":0},"encoding":{"x":{"datum":0.9709,"type":"quantitative","scale":{"domain":[0,1],"nice":false,"zero":false},"axis":null},"y":{"datum":0.5,"type":"quantitative","scale":{"domain":[0,1],"nice":false,"zero":false},"axis":null}}},
  {"mark":{"type":"text","text":"Days post infection","font":"Roboto","fontSize":14,"fontWeight":"bold","align":"center","baseline":"middle","color":"black"},"encoding":{"x":{"datum":0.5259,"type":"quantitative","scale":{"domain":[0,1],"nice":false,"zero":false},"axis":null},"y":{"datum":0.5,"type":"quantitative","scale":{"domain":[0,1],"nice":false,"zero":false},"axis":null}}}
 ]}
],
"spacing":0,
"config":{
 "font":"Liberation Sans",
 "axis":{"grid":false,"labelFont":"Liberation Sans","titleFont":"Liberation Sans","titleFontWeight":"normal","labelColor":"#222222","tickColor":"#555555"},
 "title":{"anchor":"start","frame":"group","fontSize":10,"fontWeight":"normal","font":"Open Sans","offset":-12,"baseline":"bottom","color":"#111111"}
}
}
